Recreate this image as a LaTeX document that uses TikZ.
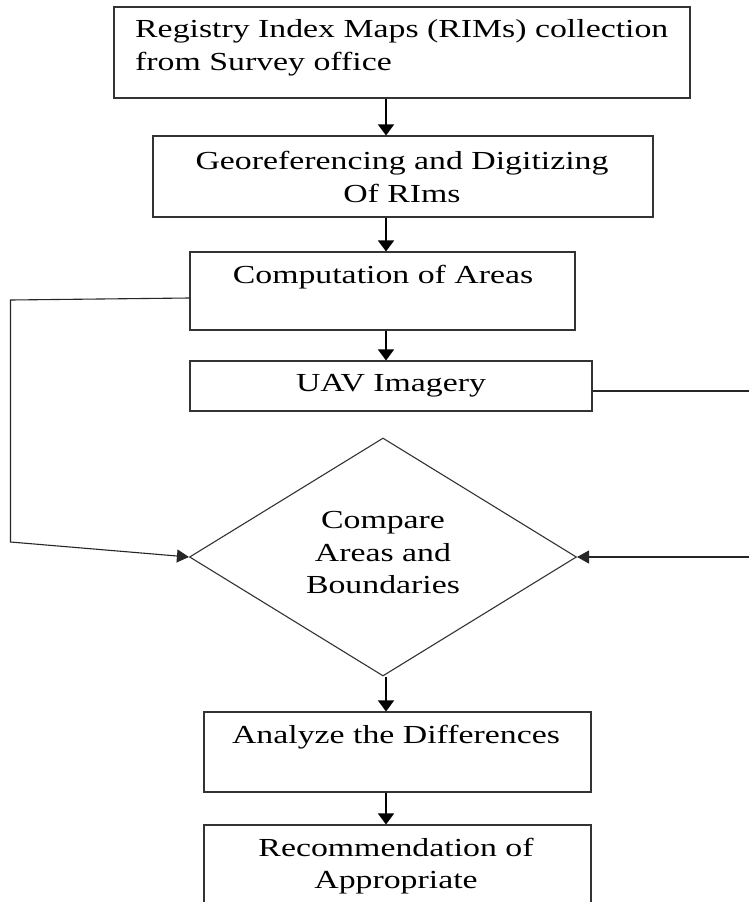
\documentclass[tikz,border=0pt]{standalone}
\usepackage{fontspec}
\setmainfont[FakeStretch=1.3]{Liberation Serif}
\usetikzlibrary{shapes.geometric,arrows.meta}
\begin{document}
\begin{tikzpicture}[x=1pt,y=1pt,
  boxshape/.style={draw=black!80,line width=1.1pt,rectangle,inner sep=0pt},
  lbl/.style={inner sep=0pt,font=\fontsize{26}{32.5}\selectfont,align=center},
  arr/.style={draw=black,line width=1.6pt,-{Triangle[length=11pt,width=16pt]}},
  conn/.style={draw=black!85,line width=1.1pt,-{Triangle[length=12pt,width=13pt]}}]
\useasboundingbox (0,0) rectangle (749,-902);
\fill[white] (0,0) rectangle (749,-902);
\clip (0,0) rectangle (749,-902);
\coordinate (ax) at (386,0);
% boxes
\node[boxshape,minimum width=576,minimum height=91] (b1) at (402,-52.5) {};
\node[boxshape,minimum width=500,minimum height=81] (b2) at (403,-176.5) {};
\node[boxshape,minimum width=385,minimum height=78] (b3) at (382.5,-291) {};
\node[boxshape,minimum width=402,minimum height=50] (b4) at (391,-386) {};
\node[boxshape,shape=diamond,minimum width=387,minimum height=238] (dia) at (383,-557) {};
\node[boxshape,minimum width=387,minimum height=80] (b5) at (397.5,-752) {};
\node[boxshape,minimum width=387,minimum height=120] (b6) at (397.5,-885) {};
% texts
\node[lbl,anchor=north west,align=left] (t1) at (135,-19.5) {Registry Index Maps (RIMs) collection\\from Survey office};
\node[lbl] (t2) at (402,-177) {Georeferencing and Digitizing\\Of RIms};
\node[lbl] (t3) at (383,-277) {Computation of Areas};
\node[lbl] (t4) at (391,-386) {UAV Imagery};
\node[lbl] (td) at (383,-553) {Compare\\Areas and\\Boundaries};
\node[lbl] (t5) at (396,-737) {Analyze the Differences};
\node[lbl] (t6) at (396,-866) {Recommendation of\\Appropriate};
% arrows
\draw[arr] (b1.south -| ax) -- (b2.north -| ax);
\draw[arr] (b2.south -| ax) -- (b3.north -| ax);
\draw[arr] (b3.south -| ax) -- (b4.north -| ax);
\draw[arr] (dia.south -| ax) -- (b5.north -| ax);
\draw[arr] (b5.south -| ax) -- (b6.north -| ax);
% side connectors
\coordinate (L1) at (10.5,-300);
\coordinate (L2) at (10.5,-542);
\draw[conn] ([yshift=-7pt]b3.west) -- (L1) -- (L2) -- (dia.west);
\coordinate (R1) at (770,-391);
\coordinate (R2) at (770,-557);
\draw[conn] ([yshift=-5pt]b4.east) -- (R1) -- (R2) -- (dia.east);
\end{tikzpicture}
\end{document}
